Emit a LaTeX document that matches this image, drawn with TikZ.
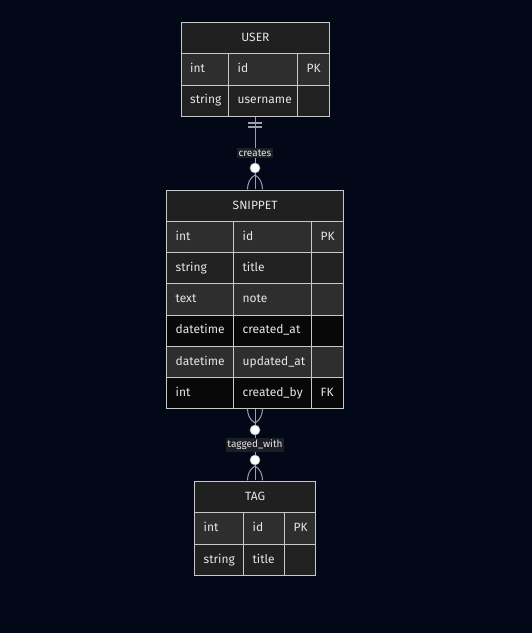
\documentclass[tikz,border=0pt]{standalone}
\usepackage{fontspec}
\setmainfont{Fira Sans}
\begin{document}
\definecolor{bg}{HTML}{020817}
\definecolor{cellline}{HTML}{C8C8C8}
\definecolor{hdrfill}{HTML}{202020}
\definecolor{rowlight}{HTML}{2E2E2E}
\definecolor{rowdark}{HTML}{212121}
\definecolor{rowblack}{HTML}{080808}
\definecolor{txt}{HTML}{E6E6E6}
\definecolor{relline}{HTML}{9CA0A8}
\definecolor{lblfill}{HTML}{1B1F25}
\tikzset{
  cellbox/.style={draw=cellline, line width=1.3pt, anchor=north west, inner xsep=9pt, inner ysep=0pt,
    text=txt, font=\fontsize{12}{14}\selectfont, align=left, text height=8.5pt, text depth=2.5pt},
  hdrbox/.style={draw=cellline, line width=1.3pt, anchor=north west, inner sep=0pt, fill=hdrfill,
    text=txt, font=\fontsize{12}{14}\selectfont, text height=8.5pt, text depth=2.5pt},
  rel/.style={draw=relline, line width=1pt},
  relbar/.style={draw=relline, line width=1.1pt},
  relknob/.style={circle, fill=white, draw=relline, line width=0.6pt, inner sep=0pt, minimum size=10pt},
  rellabel/.style={fill=lblfill, text=txt, font=\fontsize{10}{12}\selectfont, inner xsep=1.5pt, inner ysep=2pt}
}
% \ercell{name}{x}{y}{width}{height}{fill}{text}
\newcommand\ercell[7]{%
  \node[cellbox, fill=#6, text width=#4pt-18pt, minimum height=#5pt] (#1) at (#2,#3) {#7};}
\begin{tikzpicture}[x=1pt, y=-1pt]
\fill[bg] (0,0) rectangle (532,633);
\useasboundingbox (0,0) rectangle (532,633);

% ---------------- USER ----------------
\node[hdrbox, minimum width=148.5pt, minimum height=31pt] (userhdr) at (180.5,22) {USER};
\ercell{u1a}{180.5}{53}{47.5}{31.5}{rowlight}{int}
\ercell{u1b}{228}{53}{69}{31.5}{rowlight}{id}
\ercell{u1c}{297}{53}{32}{31.5}{rowlight}{PK}
\ercell{u2a}{180.5}{84.5}{47.5}{31.5}{rowdark}{string}
\ercell{u2b}{228}{84.5}{69}{31.5}{rowdark}{username}
\ercell{u2c}{297}{84.5}{32}{31.5}{rowdark}{}

% ---------------- SNIPPET ----------------
\node[hdrbox, minimum width=177pt, minimum height=31pt] (sniphdr) at (166,190) {SNIPPET};
\ercell{s1a}{166}{221}{67}{31}{rowlight}{int}
\ercell{s1b}{233}{221}{78}{31}{rowlight}{id}
\ercell{s1c}{311}{221}{32}{31}{rowlight}{PK}
\ercell{s2a}{166}{252}{67}{31}{rowdark}{string}
\ercell{s2b}{233}{252}{78}{31}{rowdark}{title}
\ercell{s2c}{311}{252}{32}{31}{rowdark}{}
\ercell{s3a}{166}{283}{67}{31.5}{rowlight}{text}
\ercell{s3b}{233}{283}{78}{31.5}{rowlight}{note}
\ercell{s3c}{311}{283}{32}{31.5}{rowlight}{}
\ercell{s4a}{166}{314.5}{67}{31.5}{rowblack}{datetime}
\ercell{s4b}{233}{314.5}{78}{31.5}{rowblack}{created\_at}
\ercell{s4c}{311}{314.5}{32}{31.5}{rowblack}{}
\ercell{s5a}{166}{346}{67}{31}{rowlight}{datetime}
\ercell{s5b}{233}{346}{78}{31}{rowlight}{updated\_at}
\ercell{s5c}{311}{346}{32}{31}{rowlight}{}
\ercell{s6a}{166}{377}{67}{31}{rowblack}{int}
\ercell{s6b}{233}{377}{78}{31}{rowblack}{created\_by}
\ercell{s6c}{311}{377}{32}{31}{rowblack}{FK}

% ---------------- TAG ----------------
\node[hdrbox, minimum width=121pt, minimum height=31pt] (taghdr) at (194,481) {TAG};
\ercell{t1a}{194}{512}{49}{32}{rowlight}{int}
\ercell{t1b}{243}{512}{41}{32}{rowlight}{id}
\ercell{t1c}{284}{512}{31}{32}{rowlight}{PK}
\ercell{t2a}{194}{544}{49}{31}{rowdark}{string}
\ercell{t2b}{243}{544}{41}{31}{rowdark}{title}
\ercell{t2c}{284}{544}{31}{31}{rowdark}{}

% attachment points of the relationships
\coordinate (userbot) at (255,116.6);
\coordinate (sniptop) at (255,189.4);
\coordinate (snipbot) at (255,408.6);
\coordinate (tagtop)  at (255,480.4);

% ---------------- USER ||--o{ SNIPPET : creates ----------------
\draw[rel] (userbot) -- (sniptop);
\draw[relbar] (248,123) -- (262,123) (248,127) -- (262,127);
\node[rellabel] (lblcreates) at (255,153) {creates};
\node[relknob] (knobcreates) at (255,168) {};
\draw[rel] (255,175) .. controls (249.5,178) and (247.5,184) .. (247.5,189.4);
\draw[rel] (255,175) .. controls (260.5,178) and (262.5,184) .. (262.5,189.4);

% ---------------- SNIPPET }o--o{ TAG : tagged_with ----------------
\draw[rel] (snipbot) -- (tagtop);
\draw[rel] (247.5,408.6) .. controls (247.5,414) and (249.5,420) .. (255,423);
\draw[rel] (262.5,408.6) .. controls (262.5,414) and (260.5,420) .. (255,423);
\node[relknob] (knobsnip) at (255,430) {};
\node[rellabel] (lbltagged) at (255,445) {tagged\_with};
\node[relknob] (knobtag) at (255,460) {};
\draw[rel] (255,466) .. controls (249.5,469) and (247.5,475) .. (247.5,480.4);
\draw[rel] (255,466) .. controls (260.5,469) and (262.5,475) .. (262.5,480.4);
\end{tikzpicture}
\end{document}
